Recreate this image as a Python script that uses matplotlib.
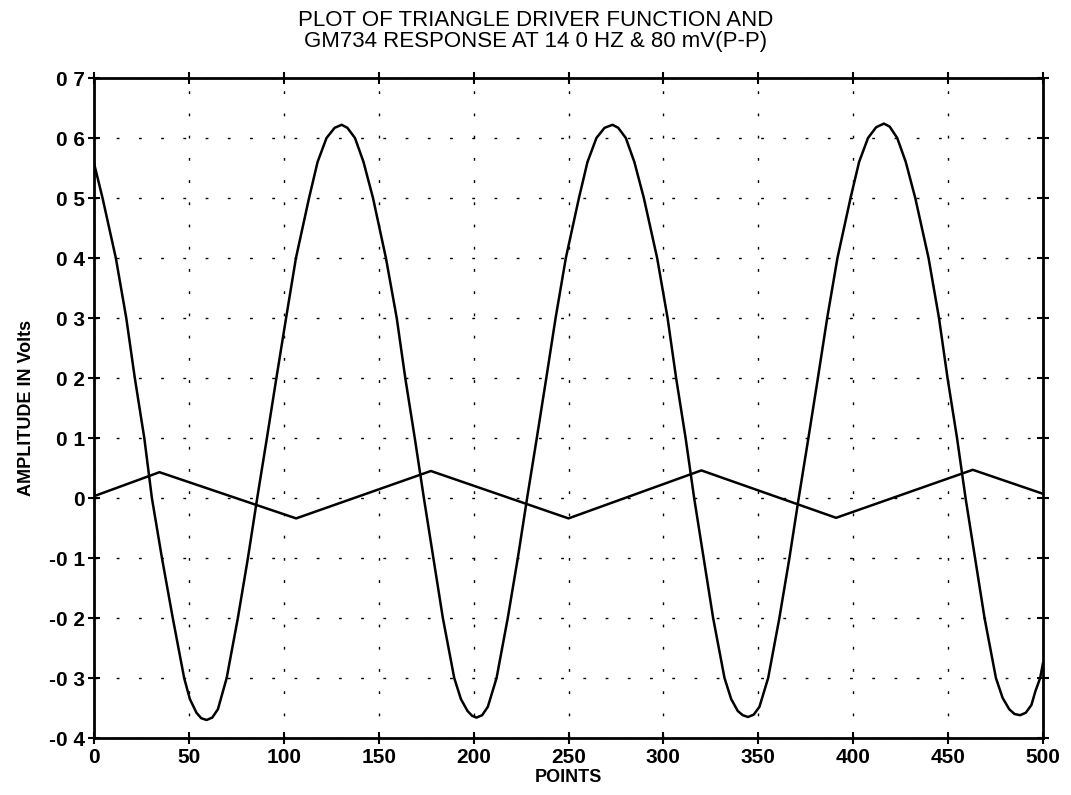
import matplotlib
matplotlib.use("Agg")
import matplotlib.pyplot as plt

# response of GM734
resp_x = [0, 4.5, 11.5, 17, 21.5, 26.5, 30.5, 35.8, 41.5, 47.5, 50.5, 54, 56.5, 59.3,
          62.3, 65.3, 69.9, 75.8, 81.1, 86, 91.1, 96.1, 101.2, 106.4, 113.3, 117.8, 122.5, 126.8, 130.5,
          133.5, 137.5, 142, 147, 153.8, 159.5, 164, 169, 173.8, 178.8, 183.8, 189.8, 193.3, 196.8, 199.2, 201.5,
          204.5, 207.5, 212.1, 218, 223.3, 228.2, 233.3, 238.3, 243.2, 248.6, 255.5, 260, 264.7, 269, 273.2,
          276.2, 280.2, 284.7, 289.7, 296.7, 302.2, 306.7, 311.7, 316.2, 321.2, 326.2, 332.2, 335.7, 339.2, 341.8, 344.6,
          347.6, 350.6, 355.2, 361.1, 366.4, 371.3, 376.4, 381.4, 386.3, 391.7, 398.6, 403.1, 407.8, 412.1, 416.2,
          419.2, 423.2, 427.7, 432.7, 439.7, 445.2, 449.7, 454.7, 459.2, 464.2, 469.2, 475.2, 478.7, 482.2, 485, 487.9,
          490.9, 493.9, 496, 498.5, 500]
resp_y = [0.558, 0.50, 0.40, 0.30, 0.20, 0.10, 0.00, -0.10, -0.20, -0.30, -0.335, -0.358, -0.367, -0.370,
          -0.366, -0.352, -0.30, -0.20, -0.10, 0.00, 0.10, 0.20, 0.30, 0.40, 0.50, 0.56, 0.60, 0.617, 0.622,
          0.617, 0.60, 0.56, 0.50, 0.40, 0.30, 0.20, 0.10, 0.00, -0.10, -0.20, -0.30, -0.335, -0.355, -0.363, -0.366,
          -0.362, -0.348, -0.30, -0.20, -0.10, 0.00, 0.10, 0.20, 0.30, 0.40, 0.50, 0.56, 0.60, 0.617, 0.622,
          0.617, 0.60, 0.56, 0.50, 0.40, 0.30, 0.20, 0.10, 0.00, -0.10, -0.20, -0.30, -0.335, -0.355, -0.362, -0.365,
          -0.361, -0.348, -0.30, -0.20, -0.10, 0.00, 0.10, 0.20, 0.30, 0.40, 0.50, 0.56, 0.60, 0.618, 0.624,
          0.619, 0.60, 0.56, 0.50, 0.40, 0.30, 0.20, 0.10, 0.00, -0.10, -0.20, -0.30, -0.333, -0.352, -0.360, -0.362,
          -0.358, -0.345, -0.322, -0.30, -0.275]

# triangle driver
drv_x = [0, 34.5, 106.5, 177.5, 250, 320, 391, 463, 500]
drv_y = [0.003, 0.043, -0.034, 0.045, -0.034, 0.046, -0.033, 0.047, 0.007]

xticks = [0, 50, 100, 150, 200, 250, 300, 350, 400, 450, 500]
yticks = [-0.4, -0.3, -0.2, -0.1, 0, 0.1, 0.2, 0.3, 0.4, 0.5, 0.6, 0.7]
ylabels = ["-0 4", "-0 3", "-0 2", "-0 1", "0", "0 1", "0 2", "0 3", "0 4", "0 5", "0 6", "0 7"]

plt.rcParams['font.family'] = ['Liberation Sans', 'DejaVu Sans']

fig = plt.figure(figsize=(10.71, 7.95), dpi=100)
ax = fig.add_axes([94 / 1071, 1 - 738 / 795, (1043 - 94) / 1071, (738 - 78) / 795])

ax.plot(resp_x, resp_y, color="black", lw=1.8)
ax.plot(drv_x, drv_y, color="black", lw=1.8)

ax.set_xlim(0, 500)
ax.set_ylim(-0.4, 0.7)
ax.set_xticks(xticks)
ax.set_yticks(yticks)
ax.set_yticklabels(ylabels)
ax.grid(True, color="black", lw=1.0, linestyle=(0, (2, 14)))
ax.tick_params(direction="inout", length=9, width=1.5, labelsize=15)
ax.tick_params(axis="x", pad=3)
ax.tick_params(axis="y", pad=2)
ax.tick_params(top=True, right=True, labeltop=False, labelright=False)
for lab in ax.get_xticklabels() + ax.get_yticklabels():
    lab.set_fontweight("bold")
for s in ax.spines.values():
    s.set_linewidth(2)

ax.set_xlabel("POINTS", fontsize=13, fontweight="bold", labelpad=1)
ax.set_ylabel("AMPLITUDE IN Volts", fontsize=13, fontweight="bold", labelpad=10)
fig.text(0.5, 1 - 31 / 795, "PLOT OF TRIANGLE DRIVER FUNCTION AND\nGM734 RESPONSE AT 14 0 HZ & 80 mV(P-P)",
         ha="center", va="center", fontsize=16, linespacing=0.95)

fig.savefig("out.png", dpi=100)
